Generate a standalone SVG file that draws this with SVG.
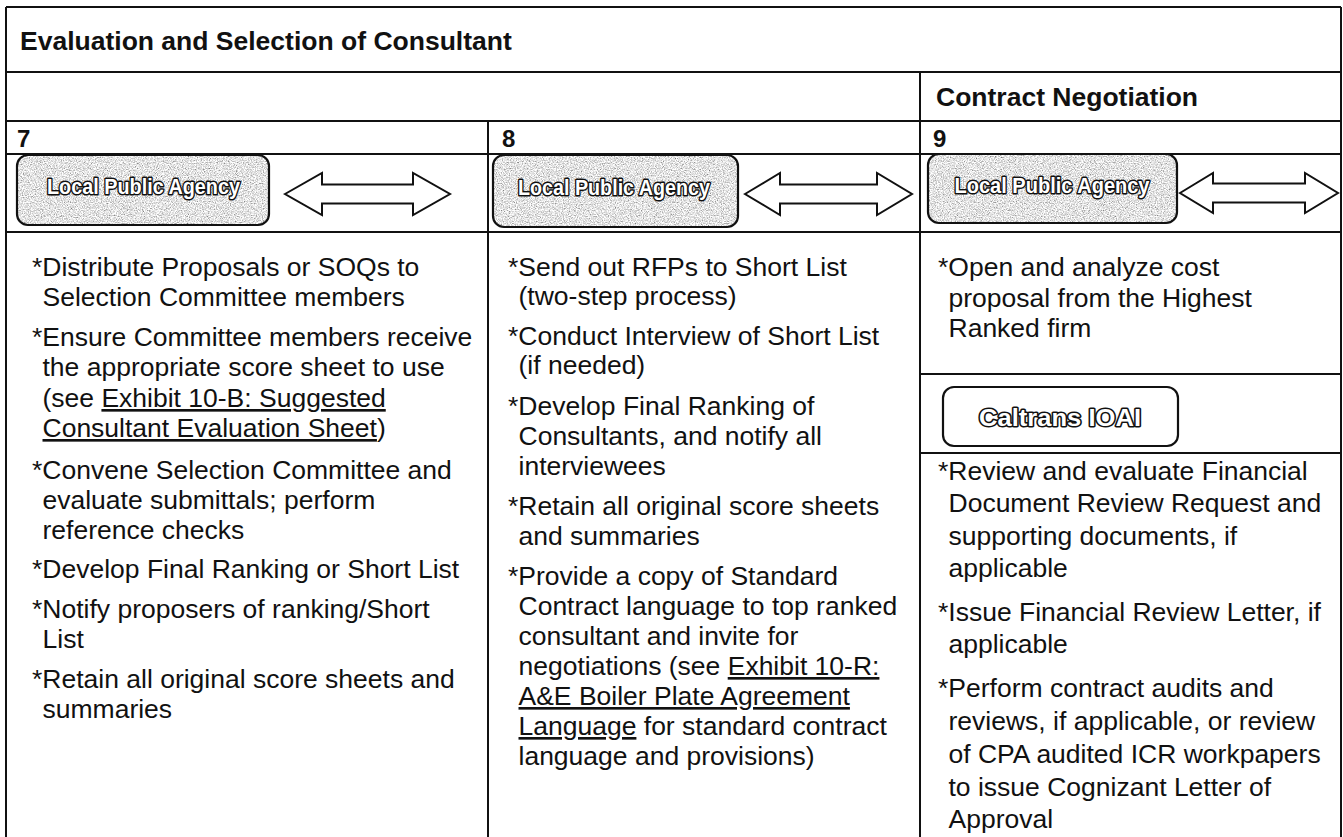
<svg xmlns="http://www.w3.org/2000/svg" width="1343" height="837" viewBox="0 0 1343 837">
<style>
.grid{stroke:#111;stroke-width:2;fill:none}
.hdr{font-family:"Liberation Sans",Arial,sans-serif;font-weight:bold;font-size:26.5px;fill:#111}
.num{font-family:"Liberation Sans",Arial,sans-serif;font-weight:bold;font-size:24px;fill:#111}
.body{font-family:"Liberation Sans",Arial,sans-serif;font-size:26.5px;fill:#111}
.u{text-decoration:underline}
.box{fill:none;stroke:#111;stroke-width:2.2}
.wa{font-family:"Liberation Sans",Arial,sans-serif;font-weight:bold;fill:#fff;stroke:#111;stroke-width:3;paint-order:stroke;stroke-linejoin:round}
.arrow{fill:#fff;stroke:#111;stroke-width:2;stroke-linejoin:miter}
</style>
<defs>
<filter id="grain" x="0" y="0" width="1" height="1">
<feTurbulence type="fractalNoise" baseFrequency="0.85" numOctaves="3" seed="7" result="n"/>
<feColorMatrix in="n" type="matrix" values="1.5 0 0 0 0.02  1.5 0 0 0 0.02  1.5 0 0 0 0.02  0 0 0 0 1" result="g"/>
<feComposite in="g" in2="SourceGraphic" operator="in"/>
</filter>
</defs>
<rect width="1343" height="837" fill="#fff"/>

<g id="grid">
<line class="grid" x1="6" y1="7" x2="1341" y2="7"/>
<line class="grid" x1="6" y1="7" x2="6" y2="837"/>
<line class="grid" x1="1341" y1="7" x2="1341" y2="837"/>
<line class="grid" x1="6" y1="72" x2="1341" y2="72"/>
<line class="grid" x1="6" y1="121" x2="1341" y2="121"/>
<line class="grid" x1="6" y1="154" x2="1341" y2="154"/>
<line class="grid" x1="6" y1="232" x2="1341" y2="232"/>
<line class="grid" x1="920" y1="72" x2="920" y2="837"/>
<line class="grid" x1="488" y1="121" x2="488" y2="837"/>
<line class="grid" x1="920" y1="374" x2="1341" y2="374"/>
<line class="grid" x1="920" y1="453" x2="1341" y2="453"/>
</g>

<g id="title">
<text class="hdr" x="20" y="50">Evaluation and Selection of Consultant</text>
</g>
<g id="phase-contract">
<text class="hdr" x="936" y="106">Contract Negotiation</text>
</g>
<g id="step-numbers">
<text class="num" x="17" y="147">7</text>
<text class="num" x="502" y="147">8</text>
<text class="num" x="933" y="147">9</text>
</g>

<g id="lpa7">
<rect x="17" y="155" width="252" height="70" rx="11" fill="#000" filter="url(#grain)"/>
<rect class="box" x="17" y="155" width="252" height="70" rx="11"/>
<text class="wa" x="143.5" y="194" font-size="22" text-anchor="middle" textLength="193" lengthAdjust="spacingAndGlyphs">Local Public Agency</text>
</g>
<g id="lpa8">
<rect x="493" y="155" width="245" height="72" rx="11" fill="#000" filter="url(#grain)"/>
<rect class="box" x="493" y="155" width="245" height="72" rx="11"/>
<text class="wa" x="614" y="195" font-size="22" text-anchor="middle" textLength="192" lengthAdjust="spacingAndGlyphs">Local Public Agency</text>
</g>
<g id="lpa9">
<rect x="928" y="154" width="249" height="69" rx="11" fill="#000" filter="url(#grain)"/>
<rect class="box" x="928" y="154" width="249" height="69" rx="11"/>
<text class="wa" x="1052" y="193" font-size="22" text-anchor="middle" textLength="195" lengthAdjust="spacingAndGlyphs">Local Public Agency</text>
</g>

<g id="connectors">
<path class="arrow" d="M285,194 L322,173 L322,184.5 L413,184.5 L413,173 L450,194 L413,215 L413,203.5 L322,203.5 L322,215 Z"/>
<path class="arrow" d="M745,194 L780,173 L780,184.5 L877,184.5 L877,173 L912,194 L877,215 L877,203.5 L780,203.5 L780,215 Z"/>
<path class="arrow" d="M1180,193 L1213,173 L1213,183.5 L1305,183.5 L1305,173 L1338,193 L1305,213 L1305,202.5 L1213,202.5 L1213,213 Z"/>
</g>

<g id="tasks7">
<text class="body">
<tspan x="32" y="276">*Distribute Proposals or SOQs to</tspan>
<tspan x="42.5" y="306">Selection Committee members</tspan>
<tspan x="32" y="346">*Ensure Committee members receive</tspan>
<tspan x="42.5" y="376">the appropriate score sheet to use</tspan>
<tspan x="42.5" y="407">(see </tspan><tspan class="u">Exhibit 10-B: Suggested</tspan>
<tspan x="42.5" y="437" class="u">Consultant Evaluation Sheet</tspan><tspan>)</tspan>
<tspan x="32" y="479">*Convene Selection Committee and</tspan>
<tspan x="42.5" y="509">evaluate submittals; perform</tspan>
<tspan x="42.5" y="539">reference checks</tspan>
<tspan x="32" y="578">*Develop Final Ranking or Short List</tspan>
<tspan x="32" y="618">*Notify proposers of ranking/Short</tspan>
<tspan x="42.5" y="648">List</tspan>
<tspan x="32" y="688">*Retain all original score sheets and</tspan>
<tspan x="42.5" y="718">summaries</tspan>
</text>
</g>

<g id="tasks8">
<text class="body">
<tspan x="508" y="276">*Send out RFPs to Short List</tspan>
<tspan x="518.5" y="305">(two-step process)</tspan>
<tspan x="508" y="345">*Conduct Interview of Short List</tspan>
<tspan x="518.5" y="374">(if needed)</tspan>
<tspan x="508" y="415">*Develop Final Ranking of</tspan>
<tspan x="518.5" y="445">Consultants, and notify all</tspan>
<tspan x="518.5" y="475">interviewees</tspan>
<tspan x="508" y="515">*Retain all original score sheets</tspan>
<tspan x="518.5" y="545">and summaries</tspan>
<tspan x="508" y="585">*Provide a copy of Standard</tspan>
<tspan x="518.5" y="615">Contract language to top ranked</tspan>
<tspan x="518.5" y="645">consultant and invite for</tspan>
<tspan x="518.5" y="675">negotiations (see </tspan><tspan class="u">Exhibit 10-R:</tspan>
<tspan x="518.5" y="705" class="u">A&amp;E Boiler Plate Agreement</tspan>
<tspan x="518.5" y="735" class="u">Language</tspan><tspan> for standard contract</tspan>
<tspan x="518.5" y="765">language and provisions)</tspan>
</text>
</g>

<g id="tasks9a">
<text class="body">
<tspan x="938" y="276">*Open and analyze cost</tspan>
<tspan x="948.5" y="307">proposal from the Highest</tspan>
<tspan x="948.5" y="337">Ranked firm</tspan>
</text>
</g>

<g id="caltrans">
<rect x="943" y="387" width="235" height="59" rx="11" fill="#fff" stroke="#111" stroke-width="2.2"/>
<text class="wa" x="1060" y="426" font-size="23" text-anchor="middle" textLength="162" lengthAdjust="spacingAndGlyphs">Caltrans IOAI</text>
</g>

<g id="tasks9b">
<text class="body">
<tspan x="938" y="480">*Review and evaluate Financial</tspan>
<tspan x="948.5" y="512">Document Review Request and</tspan>
<tspan x="948.5" y="545">supporting documents, if</tspan>
<tspan x="948.5" y="577">applicable</tspan>
<tspan x="938" y="621">*Issue Financial Review Letter, if</tspan>
<tspan x="948.5" y="653">applicable</tspan>
<tspan x="938" y="697">*Perform contract audits and</tspan>
<tspan x="948.5" y="730">reviews, if applicable, or review</tspan>
<tspan x="948.5" y="763">of CPA audited ICR workpapers</tspan>
<tspan x="948.5" y="796">to issue Cognizant Letter of</tspan>
<tspan x="948.5" y="828">Approval</tspan>
</text>
</g>
</svg>
